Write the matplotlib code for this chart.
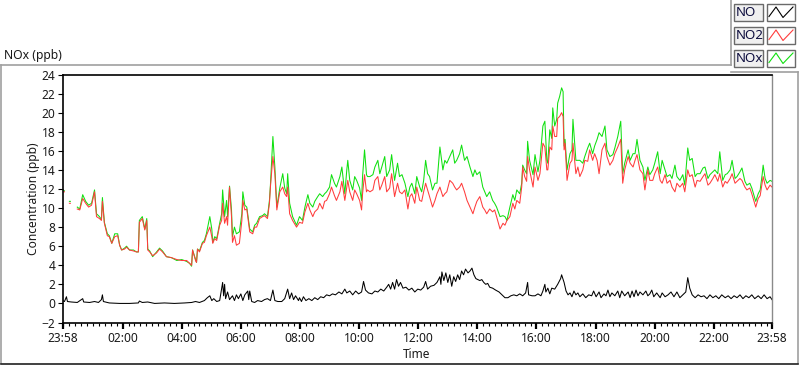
import numpy as np
import matplotlib
matplotlib.use("Agg")
import matplotlib.pyplot as plt
from matplotlib.patches import Rectangle
from matplotlib.lines import Line2D

nan = np.nan

# minutes since 23:58 (start of the record)
t_main = [
    0, 4, 9, 14, 16, 23, 30, 35, 41, 47,
    53, 59, 65, 69, 75, 79, 81, 85, 91, 95,
    100, 106, 112, 116, 120, 126, 130, 136, 144, 150,
    154, 156, 162, 167, 171, 173, 177, 183, 191, 197,
    203, 211, 221, 232, 242, 252, 258, 262, 264, 270,
    272, 274, 278, 284, 288, 292, 299, 303, 305, 309,
    313, 319, 323, 325, 329, 333, 335, 339, 343, 345,
    349, 353, 359, 364, 366, 370, 374, 380, 386, 390,
    394, 400, 406, 410, 416, 420, 422, 427, 431, 435,
    441, 447, 451, 455, 457, 461, 467, 475, 481, 487,
    492, 498, 502, 508, 512, 518, 522, 528, 532, 536,
    542, 546, 552, 556, 563, 567, 573, 577, 579, 583,
    589, 593, 597, 603, 607, 609, 613, 617, 619, 624,
    630, 634, 640, 644, 648, 654, 658, 664, 668, 674,
    680, 684, 689, 695, 701, 705, 709, 715, 719, 725,
    729, 733, 737, 741, 745, 751, 756, 760, 766, 772,
    776, 780, 786, 792, 796, 800, 806, 810, 816, 821,
    827, 833, 837, 841, 847, 853, 857, 861, 867, 873,
    877, 881, 888, 894, 898, 902, 908, 914, 918, 922,
    928, 932, 934, 938, 942, 944, 948, 955, 959, 965,
    969, 975, 979, 983, 985, 989, 993, 995, 999, 1003,
    1005, 1009, 1013, 1016, 1018, 1020, 1024, 1030, 1034, 1036,
    1042, 1046, 1050, 1056, 1060, 1066, 1070, 1076, 1080, 1085,
    1089, 1095, 1101, 1105, 1111, 1117, 1121, 1127, 1133, 1137,
    1141, 1148, 1152, 1158, 1162, 1166, 1172, 1178, 1182, 1188,
    1192, 1198, 1202, 1208, 1213, 1217, 1223, 1227, 1233, 1237,
    1243, 1247, 1253, 1259, 1263, 1269, 1273, 1278, 1284, 1288,
    1294, 1300, 1304, 1310, 1314, 1320, 1324, 1330, 1334, 1340,
    1345, 1349, 1355, 1359, 1365, 1369, 1375, 1379, 1385, 1389,
    1395, 1399, 1403, 1407, 1412, 1416, 1420, 1422, 1426, 1430,
    1436, 1440,
]

no2 = [
    11.7, 11.7, nan, 10.5, 10.5, nan, 9.9, 9.8, 11.0, 10.5,
    10.1, 10.3, 11.7, 9.1, 8.9, 8.7, 10.7, 8.4, 7.1, 7.0,
    6.3, 7.0, 7.1, 6.1, 5.6, 5.7, 5.9, 5.6, 5.5, 5.4,
    5.4, 8.5, 8.9, 7.7, 8.7, 5.6, 5.4, 5.0, 5.3, 5.7,
    5.4, 4.9, 4.8, 4.6, 4.5, 4.5, 4.2, 4.0, 5.6, 4.5,
    4.3, 5.7, 5.4, 6.3, 6.4, 7.1, 8.0, 7.0, 6.3, 6.8,
    6.6, 8.2, 8.7, 10.5, 8.4, 9.1, 8.2, 12.2, 9.1, 6.4,
    7.1, 6.1, 6.3, 8.7, 10.8, 9.8, 9.9, 7.5, 7.3, 8.0,
    8.0, 8.9, 9.1, 9.2, 8.9, 10.5, 12.2, 15.4, 13.6, 9.8,
    11.7, 12.2, 11.5, 11.2, 12.2, 9.4, 8.7, 8.0, 8.5, 8.4,
    9.6, 10.5, 9.8, 9.1, 9.6, 9.9, 10.5, 9.9, 10.7, 10.8,
    11.5, 12.2, 11.3, 10.8, 11.7, 12.8, 10.8, 12.2, 12.9, 11.7,
    10.8, 11.9, 11.5, 10.8, 9.8, 11.5, 13.5, 11.7, 11.9, 11.7,
    11.9, 12.9, 13.3, 11.9, 12.4, 13.3, 11.7, 12.1, 13.6, 11.2,
    12.6, 11.7, 11.5, 11.9, 9.9, 11.2, 11.5, 10.5, 12.2, 10.8,
    10.7, 11.7, 12.6, 11.9, 11.2, 10.1, 10.8, 11.5, 12.2, 11.2,
    11.5, 11.7, 12.9, 12.6, 12.2, 11.9, 12.2, 12.6, 11.7, 10.8,
    10.1, 9.4, 10.1, 10.7, 11.2, 10.1, 9.8, 9.4, 9.9, 9.6,
    9.8, 9.1, 7.8, 8.4, 8.2, 8.7, 9.1, 10.5, 9.9, 10.8,
    10.5, 12.2, 14.3, 13.3, 12.8, 15.4, 14.0, 12.2, 14.3, 12.9,
    13.6, 16.8, 16.4, 14.0, 14.0, 16.4, 16.1, 18.6, 17.5, 17.5,
    19.4, 19.6, 20.0, 19.6, 16.1, 16.8, 12.9, 14.7, 15.0, 16.8,
    13.6, 14.3, 13.3, 14.0, 15.0, 14.9, 16.1, 15.0, 15.7, 15.0,
    13.6, 16.1, 16.8, 15.4, 14.5, 15.0, 15.7, 16.4, 17.2, 12.6,
    14.0, 15.4, 14.7, 14.3, 15.0, 15.6, 14.0, 13.6, 11.9, 14.0,
    12.9, 12.9, 13.6, 14.3, 12.9, 12.6, 13.5, 12.6, 12.9, 12.2,
    11.7, 12.6, 12.2, 12.6, 11.7, 14.0, 13.3, 13.5, 12.2, 12.9,
    12.8, 13.3, 13.6, 12.4, 12.6, 13.1, 13.5, 12.8, 13.6, 12.2,
    12.8, 12.6, 13.1, 13.6, 12.6, 12.8, 13.1, 12.9, 12.2, 11.9,
    12.1, 11.5, 10.8, 10.1, 11.0, 11.3, 12.6, 13.3, 12.4, 11.9,
    12.4, 12.2,
]

nox = [
    11.9, 11.8, nan, 10.7, 10.7, nan, 10.1, 9.9, 11.4, 10.7,
    10.3, 10.5, 11.9, 9.4, 9.1, 8.8, 11.1, 8.5, 7.3, 7.1,
    6.3, 7.3, 7.3, 6.1, 5.6, 5.8, 6.0, 5.6, 5.6, 5.4,
    5.4, 8.7, 9.1, 7.8, 8.9, 5.7, 5.5, 4.9, 5.4, 5.8,
    5.5, 4.9, 4.8, 4.5, 4.6, 4.4, 4.2, 3.9, 5.6, 4.6,
    4.3, 5.7, 5.5, 6.4, 6.6, 7.3, 9.1, 7.8, 6.4, 7.0,
    6.8, 8.4, 9.4, 11.9, 9.1, 10.8, 9.1, 12.3, 9.8, 7.0,
    8.0, 7.3, 7.5, 9.4, 11.7, 10.3, 10.1, 7.8, 7.5, 8.2,
    8.4, 9.1, 9.2, 9.4, 9.1, 10.8, 12.4, 17.5, 14.3, 10.1,
    12.1, 13.6, 12.1, 11.5, 13.6, 10.5, 9.1, 8.2, 9.1, 8.7,
    10.1, 11.4, 10.5, 10.1, 10.7, 11.2, 11.5, 11.2, 11.5, 11.7,
    12.2, 13.5, 12.6, 12.2, 13.3, 14.3, 11.5, 14.0, 15.0, 12.9,
    11.9, 13.3, 12.9, 12.1, 10.8, 13.3, 16.1, 13.5, 13.3, 13.3,
    13.5, 14.3, 15.0, 13.6, 14.3, 15.4, 13.3, 14.0, 15.6, 12.9,
    14.7, 13.3, 13.5, 12.6, 11.2, 12.2, 12.6, 11.5, 13.3, 12.2,
    11.7, 12.9, 15.0, 13.6, 13.3, 11.9, 12.6, 12.6, 16.4, 14.0,
    15.0, 14.7, 15.4, 16.1, 14.7, 15.0, 15.7, 16.6, 15.0, 15.4,
    14.3, 13.3, 14.0, 13.5, 13.8, 12.2, 11.7, 11.2, 11.7, 10.8,
    10.5, 10.1, 9.1, 9.2, 9.1, 8.7, 10.1, 11.4, 10.8, 11.9,
    11.5, 12.6, 14.5, 14.0, 13.6, 17.0, 15.0, 13.5, 15.6, 13.8,
    15.0, 18.6, 19.1, 15.0, 14.7, 18.2, 17.3, 20.5, 18.6, 19.3,
    21.0, 21.7, 22.6, 22.2, 16.5, 17.2, 14.0, 15.7, 16.1, 19.3,
    15.0, 15.0, 15.0, 14.7, 15.4, 16.3, 16.8, 15.7, 16.5, 17.2,
    17.9, 17.5, 18.6, 16.1, 15.4, 15.6, 16.3, 17.5, 19.1, 13.6,
    14.7, 16.1, 15.0, 15.7, 15.7, 17.2, 15.0, 14.3, 12.9, 14.3,
    13.5, 14.0, 14.7, 15.9, 13.6, 15.0, 14.0, 13.3, 13.5, 13.1,
    14.5, 13.3, 12.9, 13.5, 12.4, 16.3, 15.0, 15.2, 13.3, 13.6,
    13.6, 14.2, 14.3, 13.1, 13.5, 13.8, 14.0, 13.6, 15.9, 12.9,
    13.5, 13.6, 14.0, 15.0, 13.1, 13.3, 13.8, 14.2, 12.8, 12.4,
    12.6, 12.1, 11.4, 10.7, 11.5, 11.9, 13.5, 14.5, 13.1, 12.6,
    12.9, 12.8,
]

t_no = [
    0, 4, 8, 10, 18, 30, 41, 43, 55, 65,
    73, 79, 81, 83, 95, 116, 136, 154, 156, 162,
    173, 187, 207, 227, 248, 262, 270, 278, 288, 294,
    299, 303, 307, 313, 319, 325, 327, 329, 331, 335,
    339, 345, 349, 353, 357, 362, 366, 370, 376, 378,
    380, 384, 390, 396, 404, 410, 416, 422, 427, 431,
    437, 445, 451, 457, 461, 465, 469, 473, 479, 481,
    485, 489, 494, 500, 506, 512, 518, 524, 530, 536,
    542, 548, 554, 561, 567, 573, 577, 583, 589, 595,
    601, 607, 611, 615, 621, 628, 634, 640, 646, 652,
    658, 662, 666, 670, 674, 678, 682, 686, 691, 697,
    703, 709, 715, 721, 727, 733, 737, 741, 747, 754,
    760, 766, 768, 770, 774, 778, 782, 786, 790, 794,
    798, 802, 806, 810, 814, 818, 823, 827, 831, 835,
    839, 843, 847, 851, 855, 859, 863, 867, 873, 879,
    886, 892, 898, 904, 910, 916, 922, 928, 934, 940,
    944, 946, 953, 959, 965, 971, 975, 979, 981, 985,
    989, 993, 999, 1005, 1011, 1013, 1018, 1022, 1026, 1030,
    1034, 1038, 1042, 1046, 1050, 1056, 1062, 1068, 1074, 1078,
    1083, 1089, 1093, 1099, 1103, 1107, 1111, 1115, 1121, 1127,
    1131, 1135, 1141, 1148, 1152, 1156, 1160, 1164, 1168, 1172,
    1178, 1184, 1188, 1192, 1196, 1200, 1206, 1213, 1217, 1223,
    1229, 1235, 1241, 1247, 1253, 1259, 1265, 1269, 1273, 1278,
    1284, 1290, 1296, 1302, 1308, 1314, 1320, 1326, 1332, 1338,
    1345, 1351, 1357, 1363, 1369, 1375, 1381, 1387, 1393, 1399,
    1405, 1412, 1418, 1424, 1430, 1436, 1440,
]

no = [
    0.3, 0.2, 0.7, 0.2, 0.15, 0.1, 0.5, 0.15, 0.1, 0.2,
    0.1, 0.4, 0.9, 0.2, 0.05, 0.0, 0.0, 0.05, 0.25, 0.1,
    0.15, 0.0, 0.05, 0.0, 0.05, 0.1, 0.2, 0.1, 0.3, 0.6,
    0.8, 0.3, 0.5, 0.2, 0.3, 2.2, 0.8, 2.0, 0.5, 1.2,
    0.4, 0.8, 0.3, 0.9, 0.5, 1.0, 0.3, 0.9, 1.3, 0.4,
    1.3, 0.2, 0.1, 0.3, 0.2, 0.4, 0.5, 0.3, 1.4, 0.3,
    0.2, 0.2, 0.5, 1.5, 0.5, 1.1, 0.4, 0.8, 0.3, 0.6,
    0.2, 0.7, 0.3, 0.5, 0.3, 0.6, 0.4, 0.7, 0.6, 0.9,
    0.8, 1.0, 0.9, 1.2, 1.0, 1.5, 1.1, 1.3, 0.9, 1.3,
    1.0, 1.2, 2.3, 1.4, 1.1, 1.0, 1.3, 1.2, 1.5, 1.3,
    1.7, 2.0, 1.5, 2.2, 1.5, 2.5, 1.8, 2.2, 1.6, 1.7,
    1.4, 1.6, 1.2, 1.5, 1.4, 1.7, 2.3, 1.5, 1.8, 1.9,
    2.2, 2.8, 2.0, 3.3, 2.4, 3.2, 2.2, 3.0, 1.8, 2.8,
    2.3, 3.0, 2.5, 3.4, 3.0, 3.6, 3.2, 3.4, 3.7, 3.0,
    2.6, 2.5, 2.4, 2.5, 2.2, 2.0, 2.1, 1.7, 1.6, 1.4,
    1.2, 0.9, 0.6, 0.6, 0.8, 0.9, 0.8, 1.0, 0.8, 1.1,
    2.2, 0.9, 0.8, 0.8, 1.0, 0.8, 1.3, 2.0, 1.2, 1.6,
    1.0, 1.6, 1.5, 2.0, 2.6, 3.0, 2.2, 1.3, 0.9, 1.1,
    0.7, 1.3, 0.9, 1.1, 0.7, 1.0, 0.6, 0.9, 0.8, 1.3,
    0.7, 1.2, 0.6, 1.0, 0.8, 1.4, 0.7, 1.1, 0.8, 1.3,
    0.6, 1.3, 0.8, 1.2, 0.6, 1.3, 0.7, 1.4, 0.8, 1.2,
    0.9, 1.3, 0.8, 1.0, 1.4, 0.7, 1.1, 0.6, 1.1, 0.7,
    0.9, 1.2, 0.7, 1.2, 0.6, 0.9, 1.2, 2.7, 1.6, 0.9,
    0.6, 0.9, 0.7, 0.8, 0.5, 0.9, 0.6, 0.8, 0.5, 0.9,
    0.6, 0.8, 0.5, 0.8, 0.6, 0.9, 0.5, 0.8, 0.6, 0.9,
    0.5, 0.8, 0.5, 0.9, 0.5, 0.7, 0.4,
]

tick_min = [0, 122, 242, 362, 482, 602, 722, 842, 962, 1082, 1202, 1322, 1440]
tick_lbl = ["23:58", "02:00", "04:00", "06:00", "08:00", "10:00", "12:00",
            "14:00", "16:00", "18:00", "20:00", "22:00", "23:58"]
series_names = ["NO", "NO2", "NOx"]
series_colors = ["#000000", "#ff3c3c", "#10e010"]

plt.rcParams['font.family'] = ['Noto Sans', 'DejaVu Sans']
W, H = 800, 365


def fx(x):
    return x / W


def fy(y):
    return 1 - y / H


fig = plt.figure(figsize=(W / 100, H / 100), dpi=100)
ax = fig.add_axes([fx(62.5), fy(322.5), fx(772) - fx(62.5), fy(74.5) - fy(322.5)])

ax.plot(t_no, no, color=series_colors[0], lw=0.75)
ax.plot(t_main, nox, color=series_colors[2], lw=0.75)
ax.plot(t_main, no2, color=series_colors[1], lw=0.75)

ax.set_xlim(0, 1440)
ax.set_ylim(-2, 24)
ax.set_yticks(range(-2, 25, 2))
ax.set_xticks(tick_min)
ax.set_xticklabels(tick_lbl)
ax.set_xticks([m for m in range(2, 1440, 12)], minor=True)
ax.tick_params(axis='both', labelsize=8.6, color='black', labelcolor='#1a1a1a')
ax.tick_params(axis='y', direction='out', length=3.5, width=0.8, pad=1.5)
ax.tick_params(axis='x', which='major', direction='out', length=4, width=1.6, pad=3)
ax.tick_params(axis='x', which='minor', direction='out', length=2.5, width=0.8)

for side in ['left', 'top', 'bottom']:
    ax.spines[side].set_color('black')
    ax.spines[side].set_linewidth(1.2)
ax.spines['right'].set_color('#8a8a8a')
ax.spines['right'].set_linewidth(1.0)

fig.text(fx(4), fy(55), "NOx (ppb)", fontsize=8.8, va='center', ha='left', color='#1a1a1a')
fig.text(fx(33), fy(198.5), "Concentration (ppb)", fontsize=8.6, rotation=90,
         va='center', ha='center', color='#1a1a1a')
fig.text(fx(417), fy(354), "Time", fontsize=8.6, va='center', ha='center', color='#1a1a1a')

# outer frame of the graph panel
gray = '#a0a0a0'
frame = [
    ([1, 1], [65, 363], gray),
    ([1, 731], [65, 65], gray),
    ([731, 731], [0, 65], gray),
    ([731, 798], [72, 72], gray),
    ([798, 798], [72, 363], gray),
    ([1, 798], [363.5, 363.5], '#202020'),
]
for xs, ys, c in frame:
    fig.add_artist(Line2D([fx(v) for v in xs], [fy(v) for v in ys], color=c, lw=1.2))

# legend boxes (name box + line sample box)
rows_top = [4, 27, 50]
for name, col, top in zip(series_names, series_colors, rows_top):
    h = 16.5
    fig.add_artist(Rectangle((fx(734), fy(top + h)), fx(762.5) - fx(734), h / H,
                             facecolor='#f0f0f0', edgecolor='#6a6a6a', lw=1.0))
    fig.text(fx(735.5), fy(top + h / 2 + 0.5), name, fontsize=9.6, va='center', ha='left',
             color='#101040')
    fig.add_artist(Rectangle((fx(766.5), fy(top + h)), fx(795) - fx(766.5), h / H,
                             facecolor='white', edgecolor='#6a6a6a', lw=1.0))
    zx = [769, 776, 783, 793]
    zy = [top + 12.5, top + 3, top + 13.5, top + 3]
    fig.add_artist(Line2D([fx(v) for v in zx], [fy(v) for v in zy], color=col, lw=0.8))

fig.savefig("out.png", dpi=100, facecolor='white')
